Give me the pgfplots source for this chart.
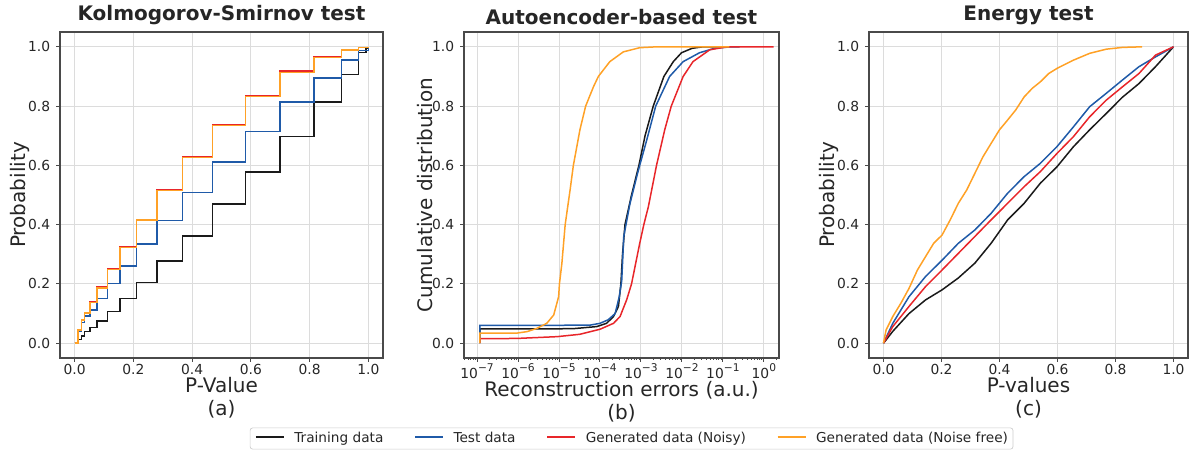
\documentclass[border=0pt]{standalone}
\usepackage{fontspec}
\setmainfont{DejaVu Sans}
\usepackage{pgfplots}
\pgfplotsset{compat=1.18}
\definecolor{cblack}{HTML}{1A1A1A}
\definecolor{cblue}{HTML}{1F5AA8}
\definecolor{cred}{HTML}{E8262A}
\definecolor{corange}{HTML}{FFA126}
\definecolor{txt}{HTML}{262626}
\definecolor{gridc}{HTML}{DCDCDC}
\definecolor{framec}{HTML}{4A4A4A}
\newcommand\ten[1]{10\raisebox{0.85ex}{\fontsize{6.4}{7}\selectfont #1}}
\pgfplotsset{
  myaxis/.style={
    scale only axis, height=195.6pt,
    axis line style={framec, line width=0.8pt},
    grid=major, major grid style={gridc, line width=0.6pt},
    tick align=outside, tick pos=left,
    major tick length=2.4pt, minor tick length=1.2pt,
    tick style={framec, line width=0.6pt},
    ticklabel style={font=\fontsize{8.3}{10}\selectfont, text=txt},
    xticklabel style={inner sep=1pt},
    /pgf/number format/assume math mode=true,
    label style={font=\fontsize{12}{14}\selectfont, text=txt, align=center},
    xlabel style={yshift=3pt},
    ylabel style={yshift=-7.5pt},
    title style={font=\fontsize{12}{14}\selectfont\bfseries, text=txt, anchor=south, inner sep=0pt, yshift=-2pt},
    ymin=-0.05, ymax=1.05, ytick={0,0.2,0.4,0.6,0.8,1},
    yticklabel style={/pgf/number format/.cd, fixed, fixed zerofill, precision=1},
    every axis plot/.append style={line width=0.9pt},
  },
  linaxis/.style={
    xmin=-0.05, xmax=1.05, xtick={0,0.2,0.4,0.6,0.8,1},
    xticklabel style={/pgf/number format/.cd, fixed, fixed zerofill, precision=1},
  }
}
\begin{document}
\begin{tikzpicture}
\useasboundingbox (0,0) rectangle (717.6pt,270pt);
% ---------------- (a)
\begin{axis}[myaxis, linaxis, at={(36pt,55.2pt)}, anchor=south west, width=193.8pt,
  title={Kolmogorov-Smirnov test}, xlabel={P-Value\\(a)}, ylabel={Probability}]
\addplot[cblack, const plot] coordinates {(0,0) (0.011,0.013) (0.023,0.025) (0.034,0.039) (0.053,0.053) (0.076,0.075) (0.111,0.107) (0.154,0.151) (0.211,0.205) (0.281,0.278) (0.368,0.362) (0.469,0.469) (0.582,0.577) (0.700,0.698) (0.815,0.813) (0.908,0.907) (0.967,0.981) (0.992,0.996) (1.0,1.0)};
\addplot[cblue, const plot] coordinates {(0,0) (0.011,0.04) (0.023,0.07) (0.034,0.092) (0.053,0.112) (0.076,0.151) (0.111,0.202) (0.154,0.260) (0.211,0.334) (0.281,0.414) (0.368,0.509) (0.469,0.611) (0.582,0.714) (0.700,0.813) (0.815,0.895) (0.908,0.955) (0.967,0.987) (1.0,1.0)};
\addplot[cred, const plot] coordinates {(0,0) (0.011,0.045) (0.023,0.078) (0.034,0.101) (0.053,0.140) (0.076,0.190) (0.111,0.252) (0.154,0.325) (0.211,0.417) (0.281,0.517) (0.368,0.630) (0.469,0.736) (0.582,0.835) (0.700,0.918) (0.815,0.967) (0.908,0.990) (0.967,0.998) (1.0,1.0)};
\addplot[corange, const plot] coordinates {(0,0) (0.011,0.045) (0.023,0.078) (0.034,0.101) (0.053,0.137) (0.076,0.187) (0.111,0.249) (0.154,0.323) (0.211,0.415) (0.281,0.515) (0.368,0.626) (0.469,0.734) (0.582,0.833) (0.700,0.914) (0.815,0.964) (0.908,0.989) (0.967,0.998) (1.0,1.0)};
\end{axis}
% ---------------- (b)
\begin{axis}[myaxis, at={(278.4pt,55.2pt)}, anchor=south west, width=189pt,
  title={Autoencoder-based test}, xlabel={Reconstruction errors (a.u.)\\(b)}, ylabel={Cumulative distribution},
  xmin=-7.32, xmax=0.37, xtick={-7,-6,-5,-4,-3,-2,-1,0},
  xticklabels={\ten{−7},\ten{−6},\ten{−5},\ten{−4},\ten{−3},\ten{−2},\ten{−1},\ten{0}},
  minor xtick={-7.699,-6.699,...,0.301, -7.523,-6.523,...,-0.523, -7.398,-6.398,...,-0.398, -7.301,-6.301,...,-0.301, -7.222,-6.222,...,-0.222, -7.155,-6.155,...,-0.155, -7.097,-6.097,...,-0.097, -7.046,-6.046,...,-0.046},
  legend columns=4,
  legend style={at={(0.532,-0.247)}, anchor=center, draw=black!20, rounded corners=1.5pt,
    font=\fontsize{8.2}{9.5}\selectfont, text=txt, inner xsep=3pt, inner ysep=2.5pt,
    nodes={inner sep=0pt, anchor=base west},
    /tikz/every odd column/.append style={column sep=5.8pt},
    /tikz/every even column/.append style={column sep=18.6pt}},
  legend image code/.code={\draw[#1, line width=0.9pt] (0pt,0.6ex) -- (16.8pt,0.6ex);}]
\addplot[cblack] coordinates {(-6.935,0) (-6.935,0.048) (-5.5,0.048) (-4.65,0.049) (-4.08,0.056) (-3.84,0.067) (-3.67,0.09) (-3.55,0.124) (-3.49,0.2) (-3.45,0.3) (-3.39,0.4) (-3.23,0.5) (-3.05,0.6) (-2.90,0.7) (-2.70,0.8) (-2.44,0.9) (-2.21,0.95) (-2.01,0.98) (-1.75,0.995) (-1.49,1.0) (-1.1,1.0)};
\addplot[cblue] coordinates {(-6.935,0) (-6.935,0.06) (-5.5,0.06) (-4.24,0.061) (-4.0,0.067) (-3.80,0.079) (-3.63,0.1) (-3.53,0.157) (-3.47,0.21) (-3.42,0.36) (-3.27,0.47) (-3.07,0.58) (-2.86,0.685) (-2.64,0.8) (-2.30,0.9) (-1.97,0.95) (-1.57,0.98) (-1.2,0.995) (-0.8,1.0) (-0.59,1.0)};
\addplot[cred] coordinates {(-6.935,0) (-6.935,0.015) (-6.03,0.016) (-5.05,0.022) (-4.49,0.03) (-4.0,0.047) (-3.67,0.067) (-3.51,0.09) (-3.35,0.146) (-3.23,0.2) (-3.03,0.337) (-2.93,0.4) (-2.82,0.46) (-2.62,0.6) (-2.42,0.72) (-2.26,0.8) (-1.97,0.9) (-1.73,0.95) (-1.32,0.99) (-0.9,1.0) (0.24,1.0)};
\addplot[corange] coordinates {(-6.935,0) (-6.935,0.034) (-6.03,0.034) (-5.78,0.039) (-5.54,0.05) (-5.30,0.067) (-5.13,0.095) (-5.01,0.157) (-4.99,0.2) (-4.93,0.27) (-4.85,0.4) (-4.73,0.517) (-4.65,0.6) (-4.49,0.72) (-4.35,0.8) (-4.16,0.865) (-4.04,0.9) (-3.76,0.95) (-3.43,0.983) (-3.03,0.997) (-2.62,1.0) (-0.84,1.0)};
\legend{Training data, Test data, Generated data (Noisy), Generated data (Noise free)}
\end{axis}
% ---------------- (c)
\begin{axis}[myaxis, linaxis, at={(521.4pt,55.2pt)}, anchor=south west, width=191.4pt,
  title={Energy test}, xlabel={P-values\\(c)}, ylabel={Probability}]
\addplot[cblack] coordinates {(0,0) (0.032,0.04) (0.088,0.1) (0.145,0.146) (0.202,0.18) (0.258,0.22) (0.315,0.27) (0.371,0.337) (0.428,0.416) (0.485,0.472) (0.541,0.54) (0.598,0.595) (0.655,0.663) (0.711,0.72) (0.768,0.775) (0.824,0.83) (0.881,0.876) (0.938,0.933) (1.0,1.0)};
\addplot[cblue] coordinates {(0,0) (0.032,0.067) (0.088,0.157) (0.145,0.225) (0.202,0.28) (0.258,0.337) (0.315,0.382) (0.371,0.438) (0.428,0.506) (0.485,0.562) (0.541,0.607) (0.598,0.663) (0.655,0.73) (0.711,0.798) (0.768,0.843) (0.824,0.888) (0.881,0.933) (0.938,0.966) (1.0,1.0)};
\addplot[cred] coordinates {(0,0) (0.032,0.056) (0.088,0.124) (0.145,0.191) (0.202,0.247) (0.258,0.303) (0.315,0.36) (0.371,0.416) (0.428,0.472) (0.485,0.528) (0.541,0.579) (0.598,0.64) (0.655,0.697) (0.711,0.764) (0.768,0.82) (0.824,0.865) (0.881,0.91) (0.938,0.972) (1.0,1.0)};
\addplot[corange] coordinates {(0,0) (0.009,0.045) (0.032,0.09) (0.06,0.135) (0.088,0.185) (0.117,0.247) (0.145,0.292) (0.173,0.337) (0.202,0.365) (0.230,0.416) (0.258,0.472) (0.287,0.517) (0.315,0.573) (0.343,0.629) (0.371,0.674) (0.400,0.72) (0.428,0.753) (0.456,0.787) (0.485,0.831) (0.513,0.86) (0.541,0.882) (0.570,0.91) (0.598,0.927) (0.655,0.955) (0.711,0.978) (0.768,0.992) (0.824,0.998) (0.892,1.0)};
\end{axis}
\end{tikzpicture}
\end{document}
